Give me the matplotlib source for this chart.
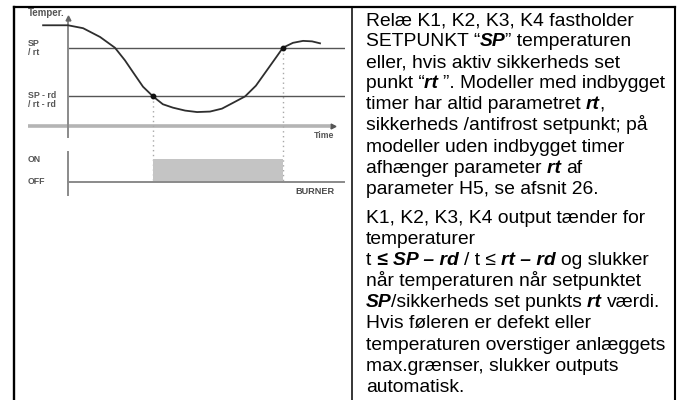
import matplotlib
matplotlib.use('Agg')
import matplotlib.pyplot as plt

# ---------------- data ----------------
# time: arbitrary units (vertical axis = 0, arrow of time axis = 100)
# temperature: arbitrary units (time axis = 0)
curve_time = [-9.4, -4.9, 0.0, 5.7, 12.1, 17.7, 21.5, 24.5, 28.3, 32.1, 35.8,
              39.6, 44.2, 48.7, 53.6, 58.1, 62.3, 66.8, 70.9, 75.1, 78.9,
              81.1, 84.9, 88.7, 92.1, 95.1]
curve_temp = [10.3, 10.3, 10.3, 10.0, 9.1, 8.0, 6.7, 5.5, 4.0, 3.0, 2.2,
              1.85, 1.55, 1.4, 1.45, 1.75, 2.35, 3.0, 4.1, 5.7, 7.15,
              8.0, 8.5, 8.7, 8.65, 8.45]
sp_level = 8.0
sp_rd_level = 3.0
burner_on_time = 32.1
burner_off_time = 81.1
level_labels = ['SP\n/ rt', 'SP - rd\n/ rt - rd']
state_labels = ['ON', 'OFF']
state_values = [1, 0]

para1 = [
    [('Relæ K1, K2, K3, K4 fastholder', 'n')],
    [('SETPUNKT “', 'n'), ('SP', 'b'), ('” temperaturen', 'n')],
    [('eller, hvis aktiv sikkerheds set', 'n')],
    [('punkt “', 'n'), ('rt ', 'b'), ('”. Modeller med indbygget', 'n')],
    [('timer har altid parametret ', 'n'), ('rt', 'b'), (',', 'n')],
    [('sikkerheds /antifrost setpunkt; på', 'n')],
    [('modeller uden indbygget timer', 'n')],
    [('afhænger parameter ', 'n'), ('rt ', 'b'), ('af', 'n')],
    [('parameter H5, se afsnit 26.', 'n')],
]
para2 = [
    [('K1, K2, K3, K4 output tænder for', 'n')],
    [('temperaturer', 'n')],
    [('t ', 'n'), ('≤ SP – rd ', 'b'), ('/ t ≤ ', 'n'), ('rt – rd ', 'b'), ('og slukker', 'n')],
    [('når temperaturen når setpunktet', 'n')],
    [('SP', 'b'), ('/sikkerheds set punkts ', 'n'), ('rt ', 'b'), ('værdi.', 'n')],
    [('Hvis føleren er defekt eller', 'n')],
    [('temperaturen overstiger anlæggets', 'n')],
    [('max.grænser, slukker outputs', 'n')],
    [('automatisk.', 'n')],
]

# ---------------- layout (pixels) ----------------
W, H = 684, 400
FAM = ['Liberation Sans', 'DejaVu Sans']
fig = plt.figure(figsize=(W / 100, H / 100), dpi=100)
fig.patch.set_facecolor('white')

ax0 = fig.add_axes([0, 0, 1, 1])
ax0.set_xlim(0, W)
ax0.set_ylim(H, 0)
ax0.axis('off')

# table borders
border_top, border_left, border_mid, border_right = 6.5, 13.5, 352, 675
ax0.plot([border_left, border_right], [border_top, border_top], color='black', lw=1.6, solid_capstyle='projecting')
ax0.plot([border_left, border_left], [border_top, H], color='black', lw=1.7)
ax0.plot([border_mid, border_mid], [border_top, H], color='black', lw=1.1)
ax0.plot([border_right, border_right], [border_top, H], color='black', lw=1.5)

# ---- diagram axes ----
px_left, px_right = 14, 345
x0_px, x100_px = 68, 333          # time 0 and time 100
t_scale = (x100_px - x0_px) / 100.0
axis_y_px = 125.7                 # temperature 0
T_scale = 9.75                    # px per temperature unit
top_px, bot_px = 7, 200


def fx(px):
    return (px - x0_px) / t_scale


def fT(py):
    return (axis_y_px - py) / T_scale


axd = fig.add_axes([px_left / W, 1 - bot_px / H, (px_right - px_left) / W, (bot_px - top_px) / H])
axd.set_xlim(fx(px_left), fx(px_right))
axd.set_ylim(fT(bot_px), fT(top_px))
axd.axis('off')
axd.patch.set_alpha(0)

lab_kw = dict(fontsize=6.3, fontweight='bold', color='#555555', family=FAM)
line_end = fx(px_right - 0.5)

# level lines
for lvl in (sp_level, sp_rd_level):
    axd.plot([0, line_end], [lvl, lvl], color='#555555', lw=1.0, zorder=2)
# time axis
axd.plot([fx(28), 99.0], [0, 0], color='#b4b4b4', lw=2.6, zorder=1, solid_capstyle='butt')
axd.plot([100.0], [0], marker='>', color='#555555', ms=3.5, zorder=3)
axd.text(100.5, fT(135.5), 'Time', ha='right', va='center', **lab_kw)
# vertical axis
axd.plot([0, 0], [fT(137), fT(19)], color='#8a8a8a', lw=1.4, zorder=2)
axd.plot([0], [fT(18)], marker='^', color='#666666', ms=3.5, zorder=3)
axd.text(fx(27.5), fT(12.5), 'Temper.', ha='left', va='center',
         **{**lab_kw, 'fontsize': 7.0})
# level labels
axd.text(fx(28), sp_level, level_labels[0], ha='left', va='center', linespacing=1.05, **lab_kw)
axd.text(fx(28), sp_rd_level - 0.35, level_labels[1], ha='left', va='center', linespacing=1.05, **lab_kw)

# dotted drop lines
drop_to = fT(182)
axd.plot([burner_on_time, burner_on_time], [sp_rd_level, drop_to], color='#a8a8a8', lw=1.0,
         ls=(0, (1, 2.5)), zorder=1)
axd.plot([burner_off_time, burner_off_time], [sp_level, drop_to], color='#a8a8a8', lw=1.0,
         ls=(0, (1, 2.5)), zorder=1)

# curve
axd.plot(curve_time, curve_temp, color='#2e2e2e', lw=1.3, zorder=4, solid_joinstyle='round')
axd.plot([burner_on_time, burner_off_time], [sp_rd_level, sp_level], 'o', color='#111111', ms=3.2, zorder=5)

# ---- burner axes ----
b_top, b_bot = 145, 200
off_px, on_px = 182, 159
s_scale = off_px - on_px
axb = fig.add_axes([px_left / W, 1 - b_bot / H, (px_right - px_left) / W, (b_bot - b_top) / H])
axb.set_xlim(fx(px_left), fx(px_right))
axb.set_ylim(-(b_bot - off_px) / s_scale, (off_px - b_top) / s_scale)
axb.axis('off')
axb.patch.set_alpha(0)

axb.fill_between([burner_on_time, burner_off_time], state_values[1], state_values[0],
                 color='#c4c4c4', lw=0, zorder=2)
axb.plot([0, line_end], [0, 0], color='#8a8a8a', lw=1.4, zorder=3)
axb.plot([0, 0], [(off_px - 152) / s_scale, -(195 - off_px) / s_scale], color='#8a8a8a', lw=1.4, zorder=3)
for lbl, v in zip(state_labels, state_values):
    axb.text(fx(28), v, lbl, ha='left', va='center', **lab_kw)
axb.text(100.5, -(192 - off_px) / s_scale, 'BURNER', ha='right', va='center',
         fontsize=6.6, fontweight='bold', color='#4a4a4a', family=FAM)

# ---------------- right column text ----------------
renderer = fig.canvas.get_renderer()
FS = 13.9
styles = {
    'n': dict(fontsize=FS, family=FAM, color='black'),
    'b': dict(fontsize=FS, family=FAM, color='black', fontweight='bold', fontstyle='italic'),
}


def _w(s, props):
    t = ax0.text(0, 0, s, **props)
    w = t.get_window_extent(renderer).width
    t.remove()
    return w


def advance(s, props):
    # width of ' |' + s + '|' minus width of ' ||' == advance of s
    return _w(' |' + s + '|', props) - _w(' ||', props)


text_x = 366
first_base = 25.0
spacing = 21.1
para_gap = 8.0
tight = 0.6      # slight tightening at style changes without a space

y = first_base
for pi, para in enumerate((para1, para2)):
    if pi == 1:
        y += para_gap
    for line in para:
        x = text_x
        for i, (s, st) in enumerate(line):
            ax0.text(x, y, s, ha='left', va='baseline', **styles[st])
            x += advance(s, styles[st])
            if i + 1 < len(line) and not s.endswith(' '):
                x -= tight
        y += spacing

fig.savefig('out.png', dpi=100, facecolor='white')
